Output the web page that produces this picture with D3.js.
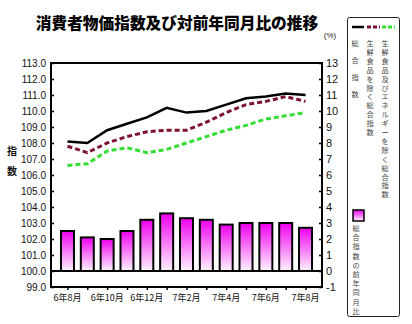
<!DOCTYPE html>
<html>
<head>
<meta charset="utf-8">
<script src="https://cdn.jsdelivr.net/npm/d3@7"></script>
<style>
  html, body { margin: 0; padding: 0; background: #fff; }
  svg { display: block; }
  text { font-family: "Liberation Sans", Arial, sans-serif; }
  .jp { font-family: "Noto Sans CJK JP", sans-serif; }
</style>
</head>
<body>
<svg id="chart" width="412" height="324"></svg>
<script>
// Months (令和6年8月 – 令和7年8月)
const months = ["6年8月","6年9月","6年10月","6年11月","6年12月","7年1月","7年2月",
                "7年3月","7年4月","7年5月","7年6月","7年7月","7年8月"];
// 総合指数
const total = [108.1, 108.0, 108.8, 109.2, 109.6, 110.2, 109.9, 110.0, 110.4, 110.8, 110.9, 111.1, 111.0];
// 生鮮食品を除く総合指数
const exFresh = [107.8, 107.4, 108.0, 108.4, 108.7, 108.8, 108.8, 109.3, 109.9, 110.4, 110.6, 110.9, 110.6];
// 生鮮食品及びエネルギーを除く総合指数
const exFreshEnergy = [106.6, 106.7, 107.5, 107.7, 107.4, 107.6, 108.0, 108.4, 108.8, 109.1, 109.5, 109.7, 109.9];
// 総合指数の前年同月比 (%)
const yoy = [2.5, 2.1, 2.0, 2.5, 3.2, 3.6, 3.3, 3.2, 2.9, 3.0, 3.0, 3.0, 2.7];

const leftTicks = d3.range(99, 113.01, 1);
const rightTicks = d3.range(-1, 13.01, 1);
const xLabels = ["6年8月","6年10月","6年12月","7年2月","7年4月","7年6月","7年8月"];

const svg = d3.select("#chart");
const L = 51, R = 322, T = 63, B = 287;

const x = d3.scalePoint().domain(months).range([L, R]).padding(0.83);
const yL = d3.scaleLinear().domain([99, 113]).range([B, T]);
const yR = d3.scaleLinear().domain([-1, 13]).range([B, T]);

// Bar gradient
const defs = svg.append("defs");
const grad = defs.append("linearGradient").attr("id", "barGrad")
  .attr("x1", 0).attr("y1", 0).attr("x2", 0).attr("y2", 1);
grad.append("stop").attr("offset", "0%").attr("stop-color", "#ee00ee");
grad.append("stop").attr("offset", "100%").attr("stop-color", "#fff4ff");

// Title
svg.append("text").attr("class", "jp")
  .attr("x", 177).attr("y", 29).attr("text-anchor", "middle")
  .attr("font-size", 15.7).attr("font-weight", 900).attr("fill", "#000")
  .text("消費者物価指数及び対前年同月比の推移");

svg.append("text").attr("x", 330).attr("y", 38).attr("text-anchor", "middle")
  .attr("font-size", 8).attr("fill", "#222").text("(%)");

// Bars
svg.append("g").selectAll("rect").data(yoy).join("rect")
  .attr("x", (d, i) => x(months[i]) - 6.5)
  .attr("width", 13)
  .attr("y", d => yR(d))
  .attr("height", d => yR(0) - yR(d))
  .attr("fill", "url(#barGrad)")
  .attr("stroke", "#000").attr("stroke-width", 2);

// Zero line (100.0)
svg.append("line").attr("x1", L).attr("x2", R)
  .attr("y1", yL(100)).attr("y2", yL(100))
  .attr("stroke", "#000").attr("stroke-width", 2);

// Index lines
const line = d3.line().x((d, i) => x(months[i])).y(d => yL(d));
svg.append("path").datum(exFreshEnergy).attr("d", line).attr("fill", "none")
  .attr("stroke", "#33dd33").attr("stroke-width", 3).attr("stroke-dasharray", "5,3");
svg.append("path").datum(exFresh).attr("d", line).attr("fill", "none")
  .attr("stroke", "#7d1230").attr("stroke-width", 3).attr("stroke-dasharray", "5,3");
svg.append("path").datum(total).attr("d", line).attr("fill", "none")
  .attr("stroke", "#000").attr("stroke-width", 2.5);

// Axes
const axL = svg.append("g").attr("transform", `translate(${L},0)`)
  .call(d3.axisRight(yL).tickValues(leftTicks).tickSize(3).tickFormat(""));
const axR = svg.append("g").attr("transform", `translate(${R},0)`)
  .call(d3.axisLeft(yR).tickValues(rightTicks).tickSize(3).tickFormat(""));
const axB = svg.append("g").attr("transform", `translate(0,${B})`)
  .call(d3.axisBottom(x).tickSize(3).tickFormat(""));
[axL, axR, axB].forEach(g => {
  g.select(".domain").remove();
  g.selectAll("line").attr("stroke", "#000").attr("stroke-width", 1.5);
});

// Plot frame
svg.append("rect").attr("x", L).attr("y", T).attr("width", R - L).attr("height", B - T)
  .attr("fill", "none").attr("stroke", "#000").attr("stroke-width", 2);

// Tick labels
svg.append("g").selectAll("text").data(leftTicks).join("text")
  .attr("x", 46).attr("y", d => yL(d) + 3.5).attr("text-anchor", "end")
  .attr("font-size", 10).attr("fill", "#111").text(d => d.toFixed(1));
svg.append("g").selectAll("text").data(rightTicks).join("text")
  .attr("x", 326).attr("y", d => yR(d) + 4).attr("text-anchor", "start")
  .attr("font-size", 11).attr("fill", "#111").text(d => d);
svg.append("g").selectAll("text").data(xLabels).join("text").attr("class", "jp")
  .attr("x", d => x(d)).attr("y", 301).attr("text-anchor", "middle")
  .attr("font-size", 9).attr("fill", "#111").text(d => d);

// Left axis title (vertical)
["指", "数"].forEach((c, i) => {
  svg.append("text").attr("class", "jp").attr("x", 12).attr("y", 155 + i * 20)
    .attr("text-anchor", "middle").attr("font-size", 10).attr("font-weight", 700)
    .attr("fill", "#111").text(c);
});

// Legend
const lg = svg.append("g");
lg.append("rect").attr("x", 347.5).attr("y", 17.5).attr("width", 52).attr("height", 299)
  .attr("rx", 2).attr("fill", "#fff").attr("stroke", "#222").attr("stroke-width", 1);
lg.append("line").attr("x1", 352).attr("x2", 364).attr("y1", 27).attr("y2", 27)
  .attr("stroke", "#000").attr("stroke-width", 2.5);
lg.append("line").attr("x1", 367).attr("x2", 380).attr("y1", 27).attr("y2", 27)
  .attr("stroke", "#7d1230").attr("stroke-width", 3).attr("stroke-dasharray", "4,2");
lg.append("line").attr("x1", 382).attr("x2", 395).attr("y1", 27).attr("y2", 27)
  .attr("stroke", "#33dd33").attr("stroke-width", 3).attr("stroke-dasharray", "4,2");

function vtext(str, cx, y0, step) {
  Array.from(str).forEach((c, i) => {
    lg.append("text").attr("class", "jp").attr("x", cx).attr("y", y0 + i * step)
      .attr("text-anchor", "middle").attr("font-size", 7.2).attr("fill", "#444").text(c);
  });
}
vtext("総合指数", 355, 46, 17);
vtext("生鮮食品を除く総合指数", 370, 46, 8.9);
vtext("生鮮食品及びエネルギーを除く総合指数", 385, 46, 8.9);

lg.append("rect").attr("x", 353).attr("y", 210).attr("width", 11).attr("height", 11)
  .attr("fill", "url(#barGrad)").attr("stroke", "#000").attr("stroke-width", 1.5);
vtext("総合指数の前年同月比", 356, 231, 9.2);
</script>
</body>
</html>
